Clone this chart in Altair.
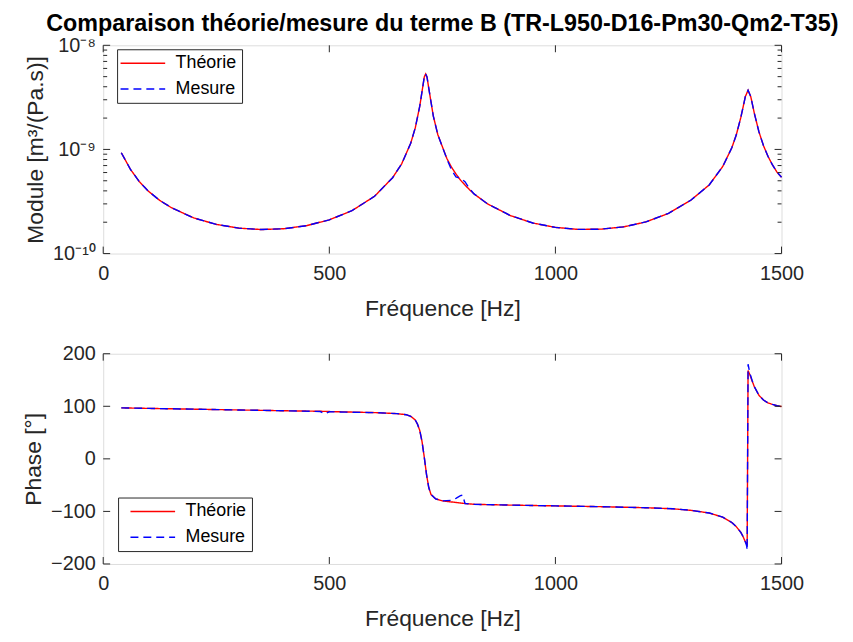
import altair as alt
import pandas as pd

# ---------------- data ----------------
freq_mod = [40, 60, 80, 100, 125, 150, 200, 250, 300, 350, 400, 450, 500, 550, 600,
            640, 660, 680, 690, 700, 705, 710, 713, 716, 720, 730, 740, 760, 770, 780,
            790, 800, 810, 820, 850, 900, 950, 1000, 1050, 1100, 1150, 1200, 1250, 1300,
            1340, 1370, 1390, 1400, 1410, 1415, 1420, 1426, 1432, 1440, 1450, 1460, 1470,
            1480, 1490, 1500]
theorie_mod = [9.3e-10, 6.46e-10, 4.90e-10, 3.97e-10, 3.24e-10, 2.77e-10, 2.20e-10, 1.906e-10,
               1.754e-10, 1.701e-10, 1.732e-10, 1.855e-10, 2.109e-10, 2.58e-10, 3.55e-10,
               5.35e-10, 7.27e-10, 1.147e-9, 1.607e-9, 2.60e-9, 3.59e-9, 4.96e-9, 5.31e-9,
               4.96e-9, 3.85e-9, 2.09e-9, 1.384e-9, 8.17e-10, 6.78e-10, 5.82e-10, 5.08e-10,
               4.55e-10, 4.11e-10, 3.74e-10, 3.00e-10, 2.32e-10, 1.965e-10, 1.784e-10,
               1.706e-10, 1.715e-10, 1.802e-10, 2.013e-10, 2.43e-10, 3.27e-10, 4.56e-10,
               6.86e-10, 1.036e-9, 1.382e-9, 2.03e-9, 2.55e-9, 3.22e-9, 3.70e-9, 3.21e-9,
               2.21e-9, 1.478e-9, 1.09e-9, 8.59e-10, 7.09e-10, 6.05e-10, 5.4e-10]
mesure_mod = [9.3e-10, 6.46e-10, 4.90e-10, 3.97e-10, 3.24e-10, 2.77e-10, 2.20e-10, 1.906e-10,
              1.754e-10, 1.701e-10, 1.732e-10, 1.855e-10, 2.109e-10, 2.58e-10, 3.55e-10,
              5.35e-10, 7.27e-10, 1.147e-9, 1.607e-9, 2.60e-9, 3.59e-9, 4.96e-9, 5.31e-9,
              4.96e-9, 3.85e-9, 2.09e-9, 1.384e-9, 8.1e-10, 6.4e-10, 5.45e-10, 5.3e-10,
              4.9e-10, 4.2e-10, 3.74e-10, 3.00e-10, 2.32e-10, 1.965e-10, 1.784e-10,
              1.706e-10, 1.715e-10, 1.802e-10, 2.013e-10, 2.43e-10, 3.27e-10, 4.56e-10,
              6.86e-10, 1.036e-9, 1.382e-9, 2.03e-9, 2.55e-9, 3.22e-9, 3.70e-9, 3.21e-9,
              2.21e-9, 1.478e-9, 1.09e-9, 8.59e-10, 7.09e-10, 6.05e-10, 5.4e-10]

freq_ph = [40, 100, 200, 300, 400, 480, 490, 500, 600, 650, 670, 680, 690, 695, 700, 705,
           710, 715, 720, 725, 735, 750, 770, 780, 790, 795, 800, 820, 900, 1000, 1100,
           1200, 1260, 1300, 1340, 1370, 1390, 1400, 1410, 1415, 1420, 1423, 1424, 1426,
           1430, 1435, 1440, 1450, 1460, 1470, 1480, 1490, 1500]
theorie_ph = [97, 96, 94.5, 93, 91.5, 90.5, 90.3, 90, 88, 86, 84, 81, 74, 66, 54, 33,
              3, -30, -55, -68, -76, -80, -82, -83, -84, -84.5, -85, -86.5, -88, -89.5, -91,
              -93, -95, -98, -103, -111, -121, -129, -140, -148, -158, -162, -165, 168,
              160, 148, 137, 121, 112, 106.5, 103.5, 101, 99.5]
mesure_ph = [97, 96, 94.5, 93, 91.5, 90, 86, 89.5, 88, 86, 84, 81, 74, 66, 54, 33,
             3, -30, -55, -68, -76, -80, -79, -75, -70, -69, -85, -86.5, -88, -89.5, -91,
             -93, -95, -98, -103, -111, -121, -129, -140, -148, -158, -166, -174, 180,
             163, 149, 137, 121, 112, 106.5, 103.5, 101, 99.5]

series = ["Théorie", "Mesure"]
x_ticks = [0, 500, 1000, 1500]
mod_major = [1e-10, 1e-9, 1e-8]
mod_minor = [2e-10, 3e-10, 4e-10, 5e-10, 6e-10, 7e-10, 8e-10, 9e-10,
             2e-9, 3e-9, 4e-9, 5e-9, 6e-9, 7e-9, 8e-9, 9e-9]
ph_ticks = [-200, -100, 0, 100, 200]

W, H1, H2 = 684, 210, 212
FONT = "Liberation Sans"
AX = "#262626"
TICK_FS, AXT_FS, TITLE_FS, LEG_FS = 20, 23, 23.5, 18

mod_t = pd.DataFrame({"f": freq_mod, "v": theorie_mod, "s": series[0]})
mod_m = pd.DataFrame({"f": freq_mod, "v": mesure_mod, "s": series[1]})
ph_t = pd.DataFrame({"f": freq_ph, "v": theorie_ph, "s": series[0]})
ph_m = pd.DataFrame({"f": freq_ph, "v": mesure_ph, "s": series[1]})

color_scale = alt.Scale(domain=series, range=["#ff0000", "#0000ff"])
dash_scale = alt.Scale(domain=series, range=[[1, 0], [8, 5]])


def legend(lx, ly, sym_off):
    # wide, flat line symbol: path spans 6 units -> 6 * sqrt(size)/2 pixels
    return alt.Legend(title=None, orient="none", legendX=lx, legendY=ly,
                      fillColor="white", strokeColor=AX, padding=5,
                      labelFont=FONT, labelFontSize=LEG_FS, labelColor="#000000",
                      symbolType="M-3,0H3", symbolSize=225, symbolStrokeWidth=1.5,
                      symbolOffset=sym_off, labelOffset=24, rowPadding=8)


def x_enc(title):
    return alt.X("f:Q", scale=alt.Scale(domain=[0, 1500], nice=False),
                 axis=alt.Axis(values=x_ticks, title=title, grid=False, ticks=False,
                               domain=False, labelFont=FONT, labelFontSize=TICK_FS,
                               labelColor=AX, labelPadding=10, labelFlush=False,
                               titleFont=FONT, titleFontSize=AXT_FS,
                               titleFontWeight="normal", titleColor=AX, titlePadding=14,
                               format="d"))


def lines(df_t, df_m, y, lg):
    t = alt.Chart(df_t).mark_line(strokeWidth=1.4).encode(
        x=x_enc("Fréquence [Hz]"), y=y,
        color=alt.Color("s:N", scale=color_scale, legend=lg),
        strokeDash=alt.StrokeDash("s:N", scale=dash_scale, legend=lg))
    m = alt.Chart(df_m).mark_line(strokeWidth=1.4).encode(
        x=x_enc("Fréquence [Hz]"), y=y,
        color=alt.Color("s:N", scale=color_scale, legend=lg),
        strokeDash=alt.StrokeDash("s:N", scale=dash_scale, legend=lg))
    return t, m


def yticks(vals, ln):
    df = pd.DataFrame({"v": vals})
    left = alt.Chart(df).mark_rule(color=AX, strokeWidth=1).encode(
        y="v:Q", x=alt.value(0), x2=alt.value(ln))
    right = alt.Chart(df).mark_rule(color=AX, strokeWidth=1).encode(
        y="v:Q", x=alt.value(W - ln), x2=alt.value(W))
    return left + right


def xticks(h, ln=7):
    df = pd.DataFrame({"f": x_ticks})
    top = alt.Chart(df).mark_rule(color=AX, strokeWidth=1).encode(
        x="f:Q", y=alt.value(0), y2=alt.value(ln))
    bot = alt.Chart(df).mark_rule(color=AX, strokeWidth=1).encode(
        x="f:Q", y=alt.value(h - ln), y2=alt.value(h))
    return top + bot


# ---------------- top panel: module ----------------
y_mod = alt.Y("v:Q", scale=alt.Scale(type="log", domain=[1e-10, 1e-8], nice=False),
              axis=alt.Axis(values=mod_major, title="Module [m³/(Pa.s)]", grid=False,
                            ticks=False, domain=False, labelFont=FONT, labelFontSize=TICK_FS,
                            labelColor=AX, labelPadding=8, labelFlush=False,
                            labelExpr="round(log(datum.value)/LN10) == -10 ? '10⁻¹⁰' : "
                                      "(round(log(datum.value)/LN10) == -9 ? '10⁻⁹' : '10⁻⁸')",
                            titleFont=FONT, titleFontSize=AXT_FS, titleFontWeight="normal",
                            titleColor=AX, titlePadding=5))
t1, m1 = lines(mod_t, mod_m, y_mod, legend(14, 4, 12))
top = alt.layer(
    t1, m1,
    yticks(mod_major, 7), yticks(mod_minor, 4), xticks(H1)
).properties(
    width=W, height=H1,
    title=alt.TitleParams("Comparaison théorie/mesure du terme B (TR-L950-D16-Pm30-Qm2-T35)",
                          font=FONT, fontSize=TITLE_FS, fontWeight="bold", color="#000000",
                          anchor="middle", frame="group", offset=0)
)

# ---------------- bottom panel: phase ----------------
y_ph = alt.Y("v:Q", scale=alt.Scale(domain=[-200, 200], nice=False),
             axis=alt.Axis(values=ph_ticks, title="Phase [°]", grid=False, ticks=False,
                           domain=False, labelFont=FONT, labelFontSize=TICK_FS, labelColor=AX,
                           labelPadding=8, labelFlush=False, titleFont=FONT,
                           titleFontSize=AXT_FS, titleFontWeight="normal", titleColor=AX,
                           titlePadding=5))
t2, m2 = lines(ph_t, ph_m, y_ph, legend(15, 145, 21))
bottom = alt.layer(
    t2, m2, yticks(ph_ticks, 7), xticks(H2)
).properties(width=W, height=H2)

chart = alt.vconcat(top, bottom, spacing=22).resolve_scale(
    color="independent", strokeDash="independent"
).resolve_legend(
    color="independent", strokeDash="independent"
).properties(
    padding={"left": 14, "top": 1, "right": 5, "bottom": 0}
).configure_view(
    stroke=AX, strokeWidth=1
).configure(background="white")

chart.save("out.html", embed_options={"renderer": "svg", "actions": False})
